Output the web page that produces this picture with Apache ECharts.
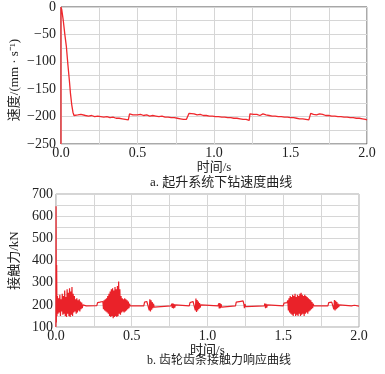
<!DOCTYPE html>
<html><head><meta charset="utf-8">
<script src="https://cdn.jsdelivr.net/npm/echarts@6/dist/echarts.min.js"></script>
<style>html,body{margin:0;padding:0;background:#fff}#c{width:385px;height:374px}</style>
</head><body><div id="c"></div>
<script>
// Chart a: speed
const speedTime = [0,0,0.005,0.015,0.025,0.035,0.045,0.055,0.062,0.07,0.078,0.085,0.095,0.11,0.12,0.13,0.14,0.16,0.18,0.20,0.22,0.24,0.26,0.28,0.30,0.32,0.34,0.36,0.38,0.40,0.42,0.44,0.444,0.448,0.46,0.47,0.48,0.50,0.52,0.54,0.56,0.58,0.60,0.62,0.64,0.66,0.68,0.70,0.72,0.74,0.76,0.78,0.80,0.82,0.833,0.837,0.85,0.87,0.89,0.91,0.93,0.95,0.97,0.99,1.01,1.03,1.05,1.07,1.09,1.11,1.13,1.15,1.17,1.19,1.21,1.23,1.231,1.235,1.26,1.28,1.30,1.32,1.34,1.36,1.38,1.40,1.42,1.44,1.46,1.48,1.50,1.52,1.54,1.56,1.58,1.60,1.62,1.628,1.632,1.65,1.67,1.69,1.71,1.73,1.75,1.77,1.79,1.81,1.83,1.85,1.87,1.89,1.91,1.93,1.95,1.97,1.99,2.0];
const speedValue = [-250,0,-5,-25,-50,-72,-105,-135,-158,-178,-192,-198,-200,-197,-199,-196,-199,-198,-199,-198,-200,-199,-200,-201,-200,-202,-201,-203,-203,-204,-205,-206,-206,-195,-196,-197,-195,-197,-196,-198,-197,-199,-198,-199,-200,-199,-201,-201,-202,-202,-203,-204,-205,-205,-207,-194,-196,-195,-197,-196,-198,-198,-199,-199,-200,-200,-201,-201,-202,-202,-203,-203,-204,-205,-205,-207,-207,-195,-196,-196,-198,-195,-197,-198,-199,-199,-200,-200,-201,-201,-202,-202,-203,-204,-204,-205,-206,-206,-194,-196,-197,-195,-196,-198,-198,-199,-199,-200,-200,-201,-201,-202,-202,-203,-203,-204,-205,-206];

// Chart b: contact force
const forceTime = [0,0.001,0.003,0.005,0.007,0.010,0.014,0.018,0.022,0.026,0.030,0.034,0.038,0.042,0.046,0.050,0.054,0.058,0.062,0.066,0.070,0.074,0.078,0.082,0.086,0.090,0.094,0.098,0.102,0.106,0.110,0.114,0.118,0.122,0.126,0.130,0.134,0.138,0.142,0.146,0.150,0.154,0.158,0.162,0.166,0.170,0.174,0.178,0.182,0.20,0.27,0.275,0.29,0.30,
0.310,0.314,0.318,0.322,0.326,0.330,0.334,0.338,0.342,0.346,0.350,0.354,0.358,0.362,0.366,0.370,0.374,0.378,0.382,0.386,0.390,0.394,0.398,0.402,0.406,0.410,0.414,0.418,0.422,0.426,0.430,0.434,0.438,0.442,0.446,0.450,0.454,0.458,0.462,0.466,0.470,0.474,0.478,0.482,0.486,0.490,
0.58,0.585,0.60,0.612,0.616,0.620,0.624,0.628,0.632,0.636,0.640,0.644,0.648,0.652,0.66,
0.760,0.764,0.768,0.772,0.776,0.780,0.784,0.788,0.792,
0.88,0.885,0.905,0.915,0.920,0.924,0.928,0.932,0.936,0.940,0.944,0.948,0.952,0.956,0.96,
1.07,1.074,1.078,1.082,1.086,1.090,1.094,1.098,
1.185,1.19,1.22,1.23,1.235,1.24,1.244,1.248,1.252,1.26,
1.375,1.379,1.383,1.387,1.391,1.395,1.40,
1.50,1.505,1.525,1.530,1.534,1.538,1.542,1.546,1.550,1.554,1.558,1.562,1.566,1.570,1.574,1.578,1.582,1.586,1.590,1.594,1.598,1.602,1.606,1.610,1.614,1.618,1.622,1.626,1.630,1.634,1.638,1.642,1.646,1.650,1.654,1.658,1.662,1.666,1.670,1.674,1.678,1.682,1.686,1.690,1.694,1.698,1.702,
1.795,1.80,1.82,1.83,1.834,1.838,1.842,1.846,1.850,1.854,1.858,1.862,1.866,1.870,1.875,1.95,1.97,1.975,1.98,2.0];
const forceValue = [100,645,120,380,150,240,160,230,165,245,150,225,170,250,155,240,160,265,150,235,145,270,160,255,150,275,145,260,155,280,150,250,165,240,170,225,160,230,165,220,175,225,170,215,180,210,185,200,195,195,196,210,212,205,
215,180,220,175,225,170,230,165,240,160,250,150,260,145,270,150,275,140,265,145,280,150,270,145,285,150,305,160,270,155,240,165,230,170,225,165,230,170,225,175,220,180,215,185,205,195,
195,212,215,218,175,225,170,220,178,212,185,205,190,198,195,
195,205,186,207,184,203,188,200,194,
195,210,215,222,175,228,168,222,175,215,182,208,188,200,194,
195,207,184,208,185,203,190,197,
195,212,216,222,218,205,185,203,192,196,
195,206,185,205,188,200,195,
195,208,210,220,175,230,165,240,160,235,155,245,150,240,160,250,150,235,155,245,150,240,160,250,150,255,155,245,160,240,150,245,160,240,165,235,160,230,170,225,175,220,180,212,185,205,195,
195,210,212,218,180,222,175,218,180,212,185,205,190,200,194,195,198,190,197,194];

const xTicks = [0, 0.5, 1.0, 1.5, 2.0];
const speedTicks = [0, -50, -100, -150, -200, -250];
const forceTicks = [100, 200, 300, 400, 500, 600, 700];

const FONT = "'Liberation Serif','Noto Sans CJK SC',serif";
const zip = (a, b) => a.map((v, i) => [v, b[i]]);
const chart = echarts.init(document.getElementById('c'), null, {renderer: 'canvas'});

function xAxisCfg(idx, gap) {
  return {
    gridIndex: idx, type: 'value', min: xTicks[0], max: xTicks[xTicks.length - 1], interval: 0.25,
    name: '时间/s', nameLocation: 'middle', nameGap: gap,
    nameTextStyle: {fontFamily: FONT, fontSize: 13, color: '#222', verticalAlign: 'top'},
    axisLine: {show: false}, axisTick: {show: false},
    axisLabel: {fontFamily: FONT, fontSize: 14, color: '#222', margin: 2,
      formatter: v => xTicks.some(t => Math.abs(t - v) < 1e-9) ? v.toFixed(1) : ''},
    splitLine: {show: true, lineStyle: {color: '#d6d6d6', width: 1}}
  };
}

chart.setOption({
  animation: false,
  backgroundColor: '#fff',
  grid: [
    {left: 61, right: 18, top: 5, height: 139, show: true, borderColor: '#555', borderWidth: 1, backgroundColor: '#fff'},
    {left: 53, right: 26, top: 194, height: 133, show: true, borderColor: '#aaa', borderWidth: 1, backgroundColor: '#fff'}
  ],
  xAxis: [xAxisCfg(0, 15), xAxisCfg(1, 14)],
  yAxis: [
    {gridIndex: 0, type: 'value', min: speedTicks[speedTicks.length - 1], max: speedTicks[0], interval: 25,
      axisLine: {show: false}, axisTick: {show: false},
      axisLabel: {fontFamily: FONT, fontSize: 14, color: '#222', margin: 5,
        formatter: v => speedTicks.includes(v) ? String(v).replace('-', '−') : ''},
      splitLine: {show: true, lineStyle: {color: '#d6d6d6', width: 1}}},
    {gridIndex: 1, type: 'value', min: forceTicks[0], max: forceTicks[forceTicks.length - 1], interval: 50,
      name: '接触力/kN', nameLocation: 'middle', nameRotate: 90, nameGap: 28,
      nameTextStyle: {fontFamily: FONT, fontSize: 13, color: '#222'},
      axisLine: {show: false}, axisTick: {show: false},
      axisLabel: {fontFamily: FONT, fontSize: 14, color: '#222', margin: 3,
        formatter: v => forceTicks.includes(v) ? String(v) : ''},
      splitLine: {show: true, lineStyle: {color: '#d6d6d6', width: 1}}}
  ],
  series: [
    {type: 'line', xAxisIndex: 0, yAxisIndex: 0, data: zip(speedTime, speedValue), showSymbol: false,
      lineStyle: {color: '#f0282d', width: 1.3}, clip: true},
    {type: 'line', xAxisIndex: 1, yAxisIndex: 1, data: zip(forceTime, forceValue), showSymbol: false,
      lineStyle: {color: '#ea2229', width: 1.2}, clip: true}
  ],
  graphic: [
    {type: 'text', x: 15, y: 80, rotation: Math.PI / 2,
      style: {text: '速度/(mm · s⁻¹)', font: "13px " + FONT, fill: '#222', align: 'center', verticalAlign: 'middle'}},
    {type: 'text', left: 150, top: 176, style: {text: 'a. 起升系统下钻速度曲线', font: "13px " + FONT, fill: '#222'}},
    {type: 'text', left: 147, top: 355, style: {text: 'b. 齿轮齿条接触力响应曲线', font: "12px " + FONT, fill: '#222'}}
  ]
});
</script></body></html>
